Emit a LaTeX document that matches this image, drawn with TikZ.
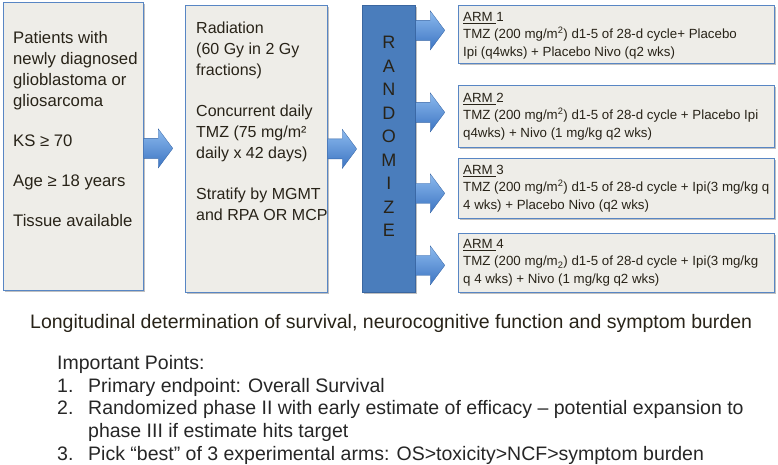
\documentclass[tikz,border=0pt]{standalone}
\usepackage{fontspec}
\setmainfont{Liberation Sans}
\usetikzlibrary{shadows,calc}

\definecolor{boxfill}{RGB}{238,237,232}
\definecolor{boxline}{RGB}{88,134,196}
\definecolor{barfill}{RGB}{74,125,188}
\definecolor{barline}{RGB}{58,102,160}
\definecolor{inkbrown}{RGB}{40,35,24}
\definecolor{arrowtop}{RGB}{140,186,238}
\definecolor{arrowbot}{RGB}{60,116,194}

\tikzset{
  panel/.style={draw=boxline, line width=0.8pt, fill=boxfill, anchor=north west, inner sep=0pt,
    drop shadow={shadow xshift=2pt, shadow yshift=-2pt, opacity=0.45, fill=black!55}},
  paneltext/.style={anchor=north west, inner sep=0pt, align=left, text=inkbrown},
  bigarrow/.pic={
    \shade[top color=arrowtop, bottom color=arrowbot, draw=arrowbot!85!black, line width=0.3pt]
      (0,-10) -- (14.5,-10) -- (14.5,-19.5) -- (29,0) -- (14.5,19.5) -- (14.5,10) -- (0,10) -- cycle;
  }
}

\begin{document}
\begin{tikzpicture}[x=1pt,y=-1pt]
		\useasboundingbox (0,0) rectangle (778,465);

		%%% Boxes
		\node[panel, minimum width=140pt, minimum height=288pt] (elig) at (3,2) {};
		\node[panel, minimum width=142pt, minimum height=287pt] (treat) at (185,5) {};
		\node[panel, draw=barline, fill=barfill, minimum width=53pt, minimum height=287pt] (rand) at (362,5) {};

		\node[panel, minimum width=316pt, minimum height=58pt] (arm1) at (458,5) {};
		\node[panel, minimum width=316pt, minimum height=62pt] (arm2) at (458,85) {};
		\node[panel, minimum width=316pt, minimum height=60pt] (arm3) at (458,158) {};
		\node[panel, minimum width=316pt, minimum height=59pt] (arm4) at (458,233) {};

		%%% Box texts
		\node[paneltext, font=\fontsize{16.7}{21}\selectfont] (eligtext) at ([xshift=10pt,yshift=-29pt]elig.north west)
			{Patients with\\newly diagnosed\\glioblastoma or\\gliosarcoma\\[19pt]KS ≥ 70\\[19pt]Age ≥ 18 years\\[19pt]Tissue available};
		\node[paneltext, font=\fontsize{16}{21}\selectfont] (treattext) at ([xshift=11pt,yshift=-17pt]treat.north west)
			{Radiation\\(60 Gy in 2 Gy\\fractions)\\[20pt]Concurrent daily\\TMZ (75 mg/m²\\daily x 42 days)\\[20pt]Stratify by MGMT\\and RPA OR MCP};
		\node[inner sep=0pt, align=center, text=inkbrown, font=\fontsize{18}{23.5}\selectfont] (randtext) at ([yshift=12.5pt]rand.center)
			{R\\A\\N\\D\\O\\M\\I\\Z\\E};

		\node[paneltext, font=\fontsize{13.3}{17.5}\selectfont] (arm1text) at ([xshift=5pt,yshift=-7pt]arm1.north west)
			{\underline{ARM }1\\TMZ (200 mg/m\textsuperscript{2}) d1-5 of 28-d cycle+ Placebo\\Ipi (q4wks) + Placebo Nivo (q2 wks)};
		\node[paneltext, font=\fontsize{13.3}{17.5}\selectfont] (arm2text) at ([xshift=5pt,yshift=-8pt]arm2.north west)
			{\underline{ARM }2\\TMZ (200 mg/m\textsuperscript{2}) d1-5 of 28-d cycle + Placebo Ipi\\q4wks) + Nivo (1 mg/kg q2 wks)};
		\node[paneltext, font=\fontsize{13.3}{17.5}\selectfont] (arm3text) at ([xshift=5pt,yshift=-7pt]arm3.north west)
			{\underline{ARM }3\\TMZ (200 mg/m\textsuperscript{2}) d1-5 of 28-d cycle + Ipi(3 mg/kg q\\4 wks) + Placebo Nivo (q2 wks)};
		\node[paneltext, font=\fontsize{13.3}{17.5}\selectfont] (arm4text) at ([xshift=5pt,yshift=-6pt]arm4.north west)
			{\underline{ARM }4\\TMZ (200 mg/m\textsubscript{2}) d1-5 of 28-d cycle + Ipi(3 mg/kg\\q 4 wks) + Nivo (1 mg/kg q2 wks)};

		%%% Arrows
		\pic at ([yshift=-2pt]elig.east) {bigarrow};
		\pic at (treat.east) {bigarrow};
		\pic at ([yshift=4pt]rand.east |- arm1.west) {bigarrow};
		\pic at ([yshift=4pt]rand.east |- arm2.west) {bigarrow};
		\pic at ([yshift=-5pt]rand.east |- arm3.west) {bigarrow};
		\pic at ([yshift=-2.5pt]rand.east |- arm4.west) {bigarrow};

		%%% Notes below
		\node[anchor=base west, inner sep=0pt, text=inkbrown, font=\fontsize{19.5}{23}\selectfont] (longi) at (30,328)
			{Longitudinal determination of survival, neurocognitive function and symptom burden};
		\node[paneltext, text=black!85, font=\fontsize{19.5}{22.7}\selectfont] (points) at (57,355.2)
			{Important Points:\\
			\makebox[31pt][l]{1.}Primary endpoint: Overall Survival\\
			\makebox[31pt][l]{2.}Randomized phase II with early estimate of efficacy -- potential expansion to\\
			\hspace*{31pt}phase III if estimate hits target\\
			\makebox[31pt][l]{3.}Pick “best” of 3 experimental arms: OS>toxicity>NCF>symptom burden};
\end{tikzpicture}
\end{document}
